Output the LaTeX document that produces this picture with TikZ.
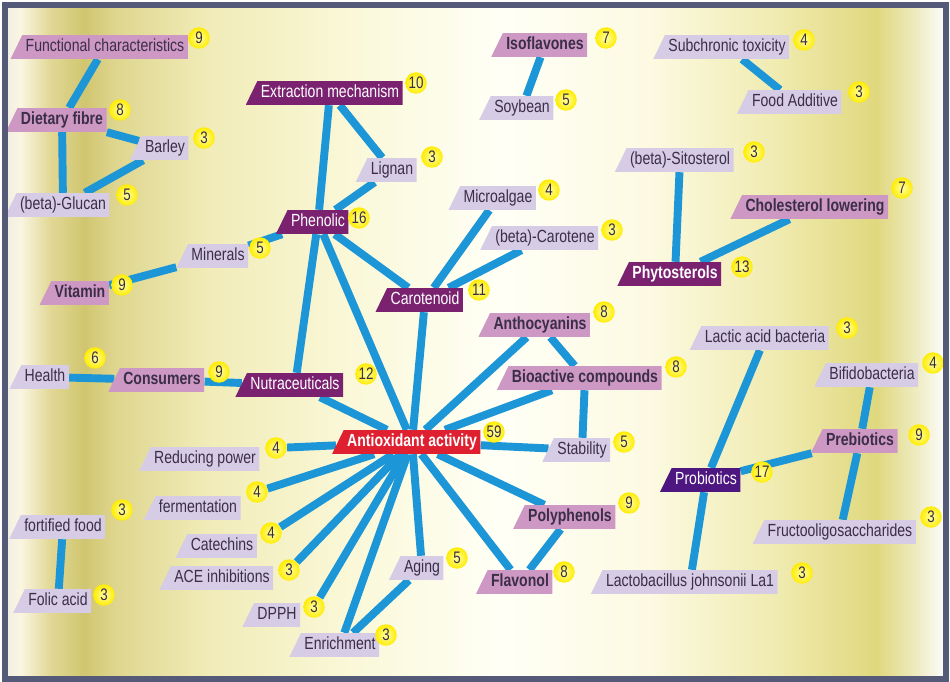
\documentclass[tikz,border=0pt]{standalone}
\usepackage{fontspec}
\setmainfont{Liberation Sans}[FakeStretch=0.8]
\usetikzlibrary{shapes.geometric,backgrounds}
\definecolor{linkblue}{RGB}{28,150,215}
\definecolor{lavbox}{RGB}{214,204,230}
\definecolor{pinkbox}{RGB}{206,152,196}
\definecolor{plumbox}{RGB}{122,34,112}
\definecolor{indigobox}{RGB}{78,22,128}
\definecolor{redbox}{RGB}{222,32,48}
\definecolor{labtext}{RGB}{58,46,72}
\definecolor{frameblue}{RGB}{84,90,120}
\definecolor{bgA}{RGB}{240,238,228}
\definecolor{bgB}{RGB}{250,246,226}
\definecolor{bgC}{RGB}{226,216,150}
\definecolor{bgD}{RGB}{208,198,112}
\definecolor{bgE}{RGB}{222,213,142}
\definecolor{bgF}{RGB}{240,235,182}
\definecolor{bgG}{RGB}{250,248,216}
\definecolor{bgH}{RGB}{255,255,246}
\definecolor{bgI}{RGB}{252,250,226}
\definecolor{bgJ}{RGB}{240,235,176}
\definecolor{bgK}{RGB}{224,216,126}
\definecolor{bgL}{RGB}{238,235,192}
\definecolor{bgM}{RGB}{250,250,244}
\pgfdeclarehorizontalshading{paper}{100bp}{color(0bp)=(bgA); color(25bp)=(bgA);
  color(25.8bp)=(bgB); color(27.4bp)=(bgC); color(29.2bp)=(bgD); color(30.8bp)=(bgE);
  color(35.5bp)=(bgF); color(43.4bp)=(bgG); color(51.3bp)=(bgH); color(59.2bp)=(bgI);
  color(66bp)=(bgJ); color(71.3bp)=(bgK); color(73.4bp)=(bgL); color(74.7bp)=(bgM);
  color(100bp)=(bgM)}
\newcommand{\tagfont}{\fontsize{10}{12}\selectfont}
\tikzset{%
    tag/.style={trapezium, trapezium left angle=64, trapezium right angle=90,
        trapezium stretches=true, inner xsep=2pt, inner ysep=2pt,
        text height=7.5pt, text depth=2pt, font=\tagfont},
    term/.style={tag, fill=lavbox, text=labtext},
    keyterm/.style={tag, fill=pinkbox, text=labtext, font=\tagfont\bfseries},
    cluster/.style={tag, fill=plumbox, text=white},
    probio/.style={tag, fill=indigobox, text=white},
    root/.style={tag, fill=redbox, text=white, font=\tagfont\bfseries},
    freq/.style={circle, inner sep=0pt, minimum size=0.43cm, shading=radial,
        inner color=yellow!35, outer color=yellow!85!orange, text=labtext,
        font=\fontsize{9.5}{10}\selectfont},
    link/.style={draw=linkblue, line width=4.5pt}
}
\begin{document}
\begin{tikzpicture}[x=0.02cm, y=-0.02cm]
    \node[keyterm, font=\tagfont] (fc) at (105,47) {Functional characteristics};
    \node[keyterm] (dietary) at (62,120) {Dietary fibre};
    \node[term] (barley) at (165,148) {Barley};
    \node[term] (glucan) at (63,205) {(beta)-Glucan};
    \node[cluster] (extraction) at (330,93) {Extraction mechanism};
    \node[keyterm] (isoflavones) at (545,45) {Isoflavones};
    \node[term] (soybean) at (522,108) {Soybean};
    \node[term] (lignan) at (392,170) {Lignan};
    \node[term] (microalgae) at (498,198) {Microalgae};
    \node[term] (bcarotene) at (545,238) {(beta)-Carotene};
    \node[term] (subchronic) at (727,47) {Subchronic toxicity};
    \node[term] (additive) at (795,102) {Food Additive};
    \node[term] (sitosterol) at (680,160) {(beta)-Sitosterol};
    \node[keyterm] (cholesterol) at (815,207) {Cholesterol lowering};
    \node[cluster, font=\tagfont\bfseries] (phytosterols) at (675,274) {Phytosterols};
    \node[cluster] (phenolic) at (318,222) {Phenolic};
    \node[term] (minerals) at (218,256) {Minerals};
    \node[keyterm] (vitamin) at (80,293) {Vitamin};
    \node[cluster] (carotenoid) at (425,300) {Carotenoid};
    \node[cluster] (nutra) at (295,385) {Nutraceuticals};
    \node[keyterm] (consumers) at (162,380) {Consumers};
    \node[term] (health) at (45,377) {Health};
    \node[keyterm] (anthocyanins) at (540,325) {Anthocyanins};
    \node[keyterm] (bioactive) at (585,378) {Bioactive compounds};
    \node[root] (antiox) at (412,442) {Antioxidant activity};
    \node[term] (stability) at (582,450) {Stability};
    \node[term] (reducing) at (205,459) {Reducing power};
    \node[term] (fermentation) at (198,508) {fermentation};
    \node[term] (fortified) at (63,527) {fortified food};
    \node[term] (catechins) at (222,546) {Catechins};
    \node[term] (ace) at (222,578) {ACE inhibitions};
    \node[term] (folic) at (58,601) {Folic acid};
    \node[term] (dpph) at (277,615) {DPPH};
    \node[term] (enrichment) at (340,645) {Enrichment};
    \node[term] (aging) at (422,568) {Aging};
    \node[keyterm] (polyphenols) at (570,517) {Polyphenols};
    \node[keyterm] (flavonol) at (520,582) {Flavonol};
    \node[term] (lactic) at (765,338) {Lactic acid bacteria};
    \node[term] (bifido) at (872,375) {Bifidobacteria};
    \node[keyterm] (prebiotics) at (860,441) {Prebiotics};
    \node[probio] (probiotics) at (706,480) {Probiotics};
    \node[term] (fructo) at (840,532) {Fructooligosaccharides};
    \node[term] (lacto) at (690,582) {Lactobacillus johnsonii La1};

    \node[freq] (fc-n) at (199,38) {9};
    \node[freq] (dietary-n) at (120,110) {8};
    \node[freq] (barley-n) at (204,138) {3};
    \node[freq] (glucan-n) at (127,195) {5};
    \node[freq] (extraction-n) at (416,83) {10};
    \node[freq] (isoflavones-n) at (606,38) {7};
    \node[freq] (soybean-n) at (566,100) {5};
    \node[freq] (lignan-n) at (432,157) {3};
    \node[freq] (microalgae-n) at (549,190) {4};
    \node[freq] (bcarotene-n) at (612,230) {3};
    \node[freq] (subchronic-n) at (804,40) {4};
    \node[freq] (additive-n) at (859,92) {3};
    \node[freq] (sitosterol-n) at (754,152) {3};
    \node[freq] (cholesterol-n) at (902,188) {7};
    \node[freq] (phytosterols-n) at (742,267) {13};
    \node[freq] (phenolic-n) at (359,218) {16};
    \node[freq] (minerals-n) at (260,248) {5};
    \node[freq] (vitamin-n) at (122,285) {9};
    \node[freq] (carotenoid-n) at (479,290) {11};
    \node[freq] (nutra-n) at (366,374) {12};
    \node[freq] (consumers-n) at (219,372) {9};
    \node[freq] (health-n) at (95,358) {6};
    \node[freq] (anthocyanins-n) at (604,312) {8};
    \node[freq] (bioactive-n) at (676,367) {8};
    \node[freq] (antiox-n) at (494,432) {59};
    \node[freq] (stability-n) at (624,442) {5};
    \node[freq] (reducing-n) at (276,448) {4};
    \node[freq] (fermentation-n) at (257,492) {4};
    \node[freq] (fortified-n) at (122,510) {3};
    \node[freq] (catechins-n) at (271,533) {4};
    \node[freq] (ace-n) at (289,570) {3};
    \node[freq] (folic-n) at (104,595) {3};
    \node[freq] (dpph-n) at (314,607) {3};
    \node[freq] (enrichment-n) at (386,635) {3};
    \node[freq] (aging-n) at (457,558) {5};
    \node[freq] (polyphenols-n) at (629,503) {9};
    \node[freq] (flavonol-n) at (564,572) {8};
    \node[freq] (lactic-n) at (847,328) {3};
    \node[freq] (bifido-n) at (933,363) {4};
    \node[freq] (prebiotics-n) at (919,435) {9};
    \node[freq] (probiotics-n) at (762,472) {17};
    \node[freq] (fructo-n) at (931,517) {3};
    \node[freq] (lacto-n) at (802,573) {3};

    \begin{scope}[on background layer]
        \fill[white] (0,0) rectangle (950,682);
        \fill[shading=paper] (5,5) rectangle (946,679);
        \draw[link] (fc)--(dietary);
        \draw[link] (dietary)--(barley);
        \draw[link] (dietary)--(glucan);
        \draw[link] (glucan)--(barley);
        \draw[link] (extraction)--(phenolic);
        \draw[link] (extraction)--(lignan);
        \draw[link] (lignan)--(phenolic);
        \draw[link] (isoflavones)--(soybean);
        \draw[link] (subchronic)--(additive);
        \draw[link] (sitosterol)--(phytosterols);
        \draw[link] (cholesterol)--(phytosterols);
        \draw[link] (phenolic)--(minerals);
        \draw[link] (minerals)--(vitamin);
        \draw[link] (phenolic)--(nutra);
        \draw[link] (phenolic)--(carotenoid);
        \draw[link] (phenolic)--(antiox);
        \draw[link] (carotenoid)--(microalgae);
        \draw[link] (carotenoid)--(bcarotene);
        \draw[link] (carotenoid)--(antiox);
        \draw[link] (health)--(consumers);
        \draw[link] (consumers)--(nutra);
        \draw[link] (nutra)--(antiox);
        \draw[link] (antiox)--(anthocyanins);
        \draw[link] (antiox)--(bioactive);
        \draw[link] (antiox)--(stability);
        \draw[link] (antiox)--(polyphenols);
        \draw[link] (antiox)--(flavonol);
        \draw[link] (antiox)--(aging);
        \draw[link] (antiox)--(enrichment);
        \draw[link] (antiox)--(dpph-n);
        \draw[link] (antiox)--(ace-n);
        \draw[link] (antiox)--(catechins-n);
        \draw[link] (antiox)--(fermentation-n);
        \draw[link] (antiox)--(reducing-n);
        \draw[link] (anthocyanins)--(bioactive);
        \draw[link] (bioactive)--(stability);
        \draw[link] (polyphenols)--(flavonol);
        \draw[link] (aging)--(enrichment);
        \draw[link] (fortified)--(folic);
        \draw[link] (lactic)--(probiotics);
        \draw[link] (probiotics)--(lacto);
        \draw[link] (probiotics)--(prebiotics);
        \draw[link] (prebiotics)--(bifido);
        \draw[link] (prebiotics)--(fructo);
    \end{scope}
    \draw[frameblue, line width=3pt] (5,5) rectangle (946,679);
\end{tikzpicture}
\end{document}
